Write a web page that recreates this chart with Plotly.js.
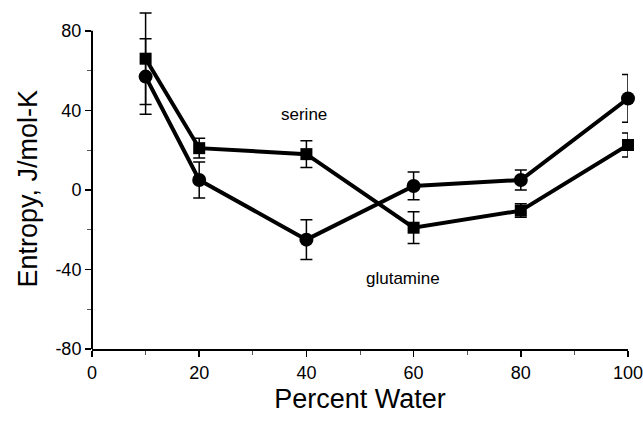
<!DOCTYPE html>
<html>
<head>
<meta charset="utf-8">
<script src="https://cdn.plot.ly/plotly-3.0.1.min.js"></script>
<style>html,body{margin:0;padding:0;background:#fff;}#chart{width:643px;height:429px;}</style>
</head>
<body>
<div id="chart"></div>
<script>
const percentWater = [10, 20, 40, 60, 80, 100];
const squareEntropy = [66, 21, 18, -19, -10.4, 22.6];
const squareError = [23, 5, 6.7, 8, 3.4, 6];
const circleEntropy = [57, 5, -25, 2, 5, 46];
const circleError = [19, 9, 10, 7, 5, 12];
const yTickVals = [-80, -40, 0, 40, 80];
const yTickText = ["-80", "-40", "0", "40", "80"];
const xTickVals = [0, 20, 40, 60, 80, 100];
const labelSerine = {x: 39.5, y: 38, text: "serine"};
const labelGlutamine = {x: 58, y: -44.5, text: "glutamine"};
const yTitleText = "Entropy, J/mol-K";
const xTitleText = "Percent Water";

const FONT = "Liberation Sans, Arial, Helvetica, sans-serif";

const traces = [
  {
    x: percentWater, y: circleEntropy, type: "scatter", mode: "lines+markers",
    cliponaxis: false,
    line: {color: "#000", width: 4},
    marker: {symbol: "circle", size: 14, color: "#000"},
    error_y: {type: "data", array: circleError, visible: true, color: "#000", thickness: 1.5, width: 6}
  },
  {
    x: percentWater, y: squareEntropy, type: "scatter", mode: "lines+markers",
    cliponaxis: false,
    line: {color: "#000", width: 4},
    marker: {symbol: "square", size: 12, color: "#000"},
    error_y: {type: "data", array: squareError, visible: true, color: "#000", thickness: 1.5, width: 6}
  }
];

const layout = {
  width: 643, height: 429,
  margin: {l: 92, r: 15, t: 7, b: 80},
  paper_bgcolor: "#fff", plot_bgcolor: "#fff",
  showlegend: false,
  font: {family: FONT, color: "#000", size: 16},
  xaxis: {
    range: [0, 100], showgrid: false, zeroline: false,
    showline: true, linecolor: "#000", linewidth: 2,
    ticks: "outside", ticklen: 6, tickwidth: 1.5, tickcolor: "#000",
    tickvals: xTickVals, ticklabeloverflow: "allow",
    minor: {ticks: "outside", dtick: 10, tick0: 0, ticklen: 4, tickwidth: 1, tickcolor: "#555"},
    tickfont: {family: FONT, size: 18, color: "#000"},
    title: {text: xTitleText, font: {family: FONT, size: 27, color: "#000"}, standoff: 8},
    fixedrange: true
  },
  yaxis: {
    range: [-80, 92], showgrid: false, zeroline: false,
    showline: false,
    ticks: "outside", ticklen: 6, tickwidth: 1.5, tickcolor: "#000",
    tickvals: yTickVals, ticktext: yTickText, ticklabeloverflow: "allow",
    minor: {ticks: "outside", tickvals: [-60, -20, 20, 60], ticklen: 4, tickwidth: 1, tickcolor: "#555"},
    tickfont: {family: FONT, size: 18, color: "#000"},
    fixedrange: true
  },
  shapes: [
    {type: "line", xref: "paper", yref: "y", x0: 0, x1: 0, y0: -80, y1: 80,
     line: {color: "#000", width: 2}}
  ],
  annotations: [labelSerine, labelGlutamine].map(a => ({
    x: a.x, y: a.y, xref: "x", yref: "y", text: a.text, showarrow: false,
    font: {family: FONT, size: 17, color: "#000"}
  })).concat([{
    x: -0.12, y: 0.5, xref: "paper", yref: "y", text: yTitleText, textangle: -90,
    xanchor: "center", yanchor: "middle",
    showarrow: false, font: {family: FONT, size: 27, color: "#000"}
  }])
};

Plotly.newPlot("chart", traces, layout, {staticPlot: true, displayModeBar: false});
</script>
</body>
</html>
